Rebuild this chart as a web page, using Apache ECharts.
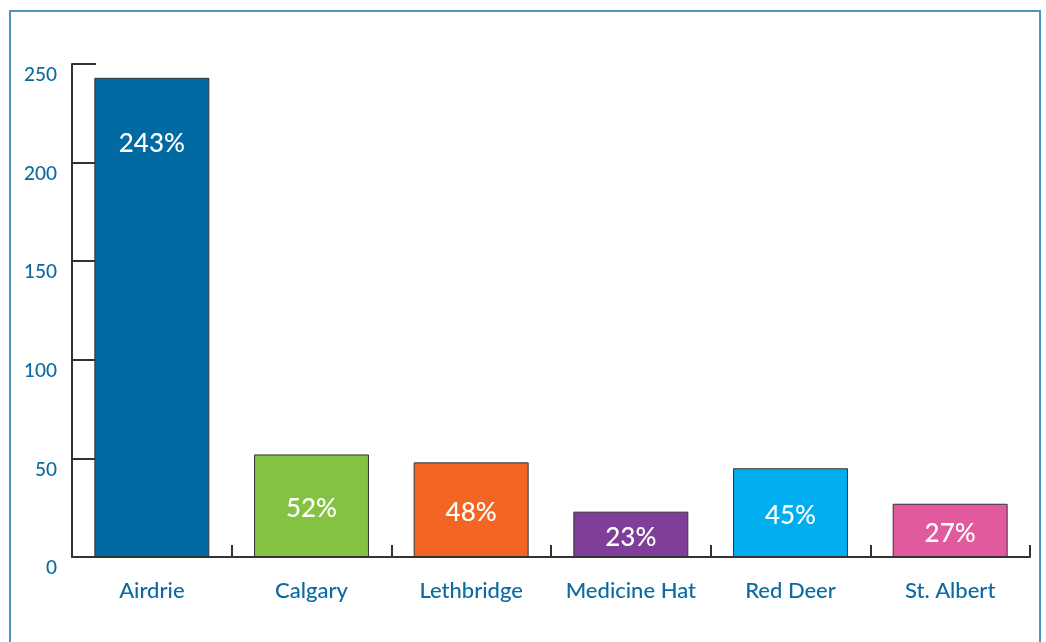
<!DOCTYPE html>
<html>
<head>
<meta charset="utf-8">
<script src="https://cdn.jsdelivr.net/npm/echarts@6/dist/echarts.min.js"></script>
<style>
html,body{margin:0;padding:0;background:#fff;}
#chart{width:1046px;height:642px;}
</style>
</head>
<body>
<div id="chart"></div>
<script>
const categories = ['Airdrie', 'Calgary', 'Lethbridge', 'Medicine Hat', 'Red Deer', 'St. Albert'];
const values = [243, 52, 48, 23, 45, 27];
const barColors = ['#026aa2', '#83c341', '#f26522', '#7f3f98', '#00aeef', '#e15a9d'];
const yTicks = [0, 50, 100, 150, 200, 250];

const chart = echarts.init(document.getElementById('chart'));
const font = 'Lato, "Open Sans", sans-serif';
const labelBlue = '#0a6aa1';

chart.setOption({
  animation: false,
  backgroundColor: '#ffffff',
  graphic: [{
    type: 'rect',
    shape: { x: 10, y: 11, width: 1030, height: 700 },
    style: { fill: 'none', stroke: '#4f94c0', lineWidth: 2 },
    silent: true,
    z: 0
  }],
  grid: { left: 72, right: 16, top: 64, bottom: 85, containLabel: false },
  xAxis: {
    type: 'category',
    data: categories,
    axisLine: { lineStyle: { color: '#333', width: 2 } },
    axisTick: { show: true, inside: true, length: 12, alignWithLabel: false, lineStyle: { color: '#333', width: 2 } },
    axisLabel: { color: labelBlue, fontFamily: font, fontSize: 22, fontWeight: 500, margin: 23, interval: 0 }
  },
  yAxis: {
    type: 'value',
    min: yTicks[0],
    max: yTicks[yTicks.length - 1],
    interval: yTicks[1] - yTicks[0],
    splitLine: { show: false },
    axisLine: { show: true, lineStyle: { color: '#333', width: 2 } },
    axisTick: { show: true, inside: true, length: 24, lineStyle: { color: '#333', width: 2 } },
    axisLabel: {
      color: labelBlue, fontFamily: font, fontSize: 19, fontWeight: 500, margin: 15,
      verticalAlign: 'top', lineHeight: 22
    }
  },
  series: [{
    type: 'bar',
    barCategoryGap: '28%',
    data: values.map((v, i) => ({
      value: v,
      itemStyle: { color: barColors[i] },
      label: i === 0 ? { position: ['50%', 66], align: 'center', verticalAlign: 'middle', offset: [0, 0] } : {}
    })),
    itemStyle: { borderColor: '#333', borderWidth: 1 },
    label: {
      show: true,
      position: 'inside',
      offset: [0, 3],
      color: '#ffffff',
      fontFamily: font,
      fontSize: 26,
      fontWeight: 500,
      formatter: p => p.value + '%'
    },
    z: 1
  }]
});
</script>
</body>
</html>
